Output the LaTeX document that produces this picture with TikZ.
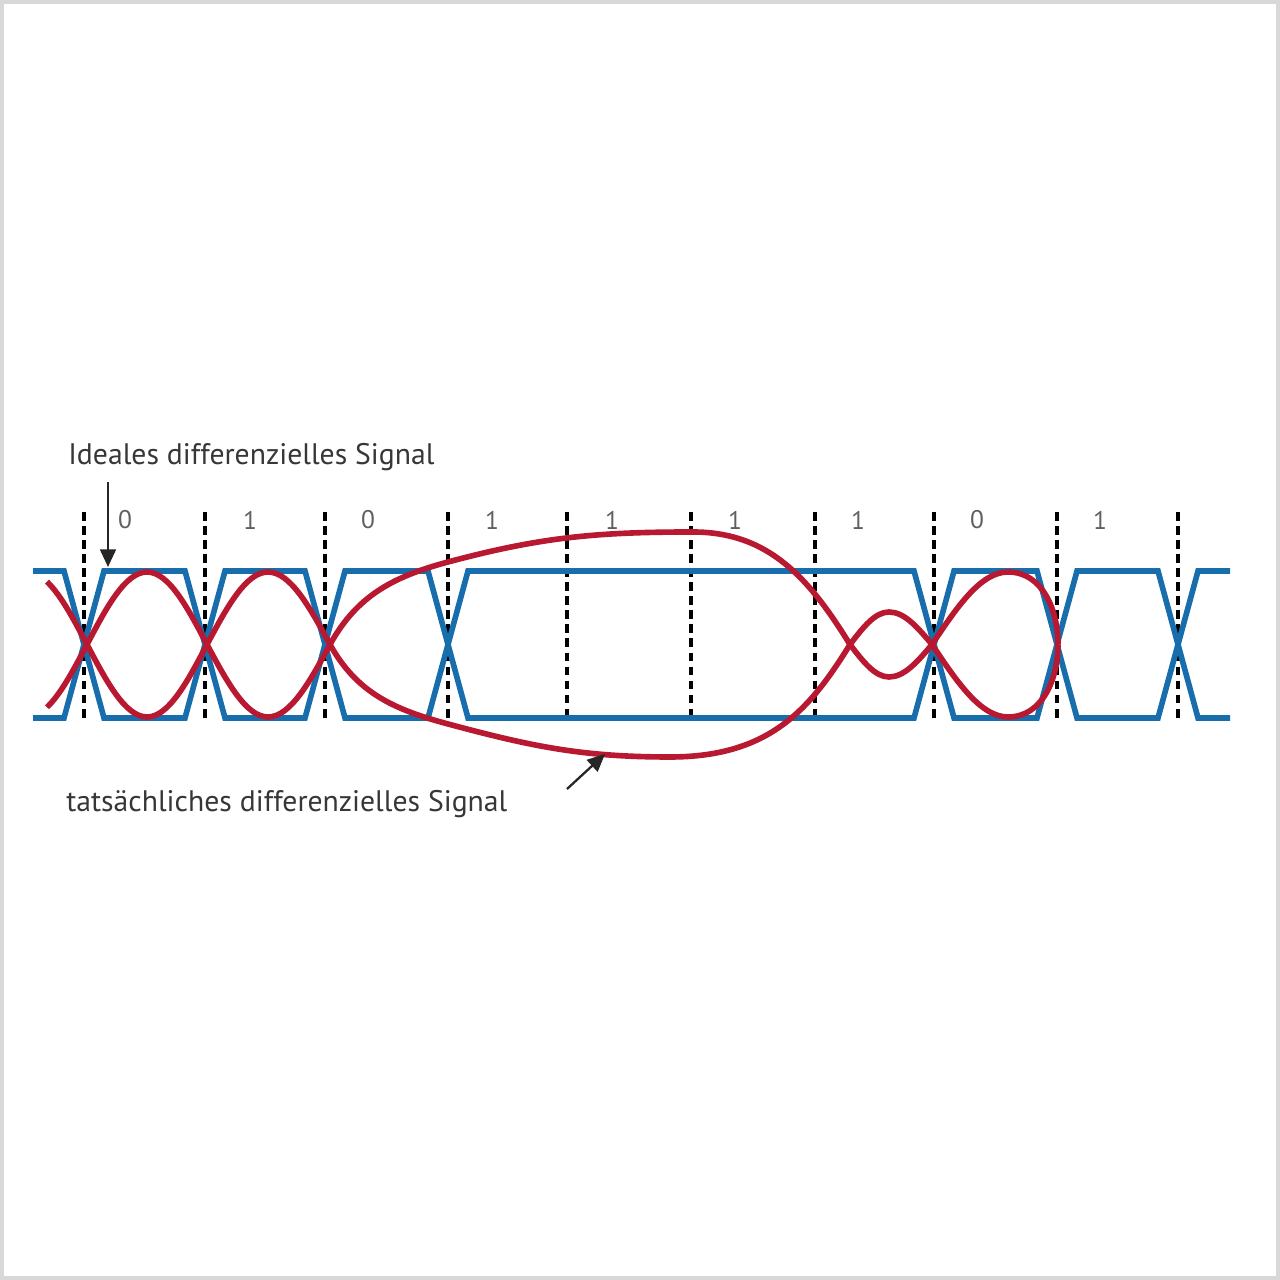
\documentclass[tikz,border=0pt]{standalone}
\usepackage{fontspec}
\setmainfont{PT Sans}
\usetikzlibrary{arrows.meta}
\definecolor{sigblue}{RGB}{24,110,172}
\definecolor{sigred}{RGB}{184,24,48}
\definecolor{framegray}{RGB}{216,216,216}
\definecolor{digitgray}{RGB}{95,95,95}
\definecolor{textgray}{RGB}{55,55,55}
\tikzset{
  ideal/.style={draw=sigblue, line width=3.2pt, line join=miter},
  actual/.style={draw=sigred, line width=3.2pt, line join=round},
  clockline/.style={draw=black, line width=2pt, dash pattern=on 5pt off 3pt},
  digit/.style={text=digitgray, font=\fontsize{14.5pt}{16pt}\selectfont, inner sep=0pt},
  caption/.style={text=textgray, font=\fontsize{16.9pt}{19pt}\selectfont, inner sep=0pt, anchor=west},
  pointer/.style={draw=black!85, line width=1.3pt, -{Triangle[length=10pt,width=9pt]}}
}
\begin{document}
\begin{tikzpicture}[x=0.02cm,y=0.02cm]
\useasboundingbox (0,0) rectangle (1280,1280);
\draw[framegray, line width=2.4pt, fill=white] (2,2) rectangle (1278,1278);

% clock boundaries
\foreach \xx in {84,205,325,448,567,691,815,934,1057,1178}
  \draw[clockline] (\xx,768) -- (\xx,560);

% bit labels
\foreach \xx/\bit [count=\i] in {125/0,250/1,368/0,492/1,612/1,735/1,858/1,977/0,1100/1}
  \node[digit] (bit\i) at (\xx,760) {\bit};

% ideal differential signal
\draw[ideal] (33,709) -- (64,709) -- (104,562) -- (185,562) -- (225,709) -- (305,709) -- (345,562)
  -- (428,562) -- (468,709) -- (914,709) -- (954,562) -- (1037,562) -- (1077,709)
  -- (1158,709) -- (1198,562) -- (1230,562);
\draw[ideal] (33,562) -- (64,562) -- (104,709) -- (185,709) -- (225,562) -- (305,562) -- (345,709)
  -- (428,709) -- (468,562) -- (914,562) -- (954,709) -- (1037,709) -- (1077,562)
  -- (1158,562) -- (1198,709) -- (1230,709);

% actual differential signal
\draw[actual] plot[domain=47:87, samples=12] (\x,{635.5+72.5*cos((\x-27)*1.5)})
  sin (147,563) cos (207,635.5) sin (268,708) cos (330,635.5)
  to[out=-61,in=165] (448,556) to[out=-15,in=180] (670,523)
  .. controls (770,523) and (810,571) .. (850,635.5)
  sin (889,668) cos (932,635.5) sin (1008,563)
  to[out=0,in=-90] (1058,635.5);
\draw[actual] plot[domain=47:87, samples=12] (\x,{635.5-72.5*cos((\x-27)*1.5)})
  sin (147,708) cos (207,635.5) sin (268,563) cos (330,635.5)
  to[out=61,in=-165] (448,718) to[out=15,in=180] (693,748)
  .. controls (770,748) and (810,700) .. (850,635.5)
  sin (889,603) cos (932,635.5) sin (1008,708)
  to[out=0,in=90] (1058,635.5);

% captions and pointers
\node[caption] (idealtxt) at (68,823) {Ideales differenzielles Signal};
\node[caption] (actualtxt) at (66,476) {tatsächliches differenzielles Signal};
\coordinate (p1s) at (108,798);
\coordinate (p1e) at (108,713);
\coordinate (p2s) at (567,491);
\coordinate (p2e) at (605,526);
\draw[pointer] (p1s) -- (p1e);
\draw[pointer] (p2s) -- (p2e);
\end{tikzpicture}
\end{document}
